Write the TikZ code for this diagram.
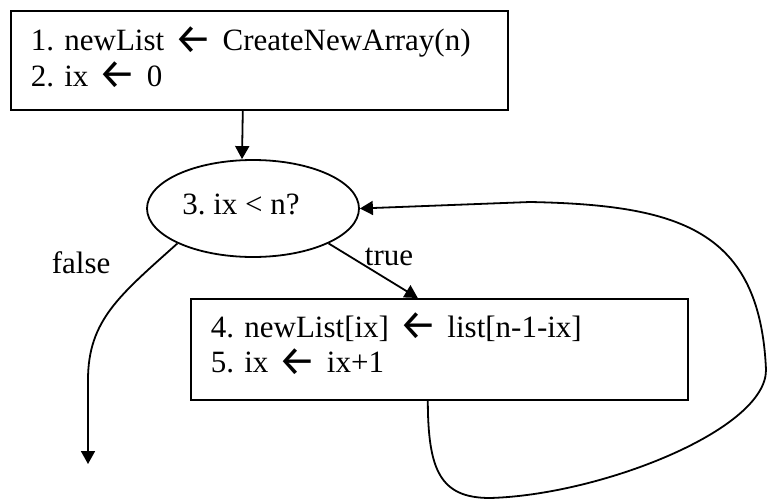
\documentclass[tikz,border=0pt]{standalone}
\usepackage{fontspec}
\setmainfont{Liberation Serif}
\newfontfamily\arrowfont{Fira Sans}
\newcommand{\getsarrow}{\raisebox{-2.5pt}{\arrowfont\fontsize{42}{42}\selectfont ←}}
\usetikzlibrary{arrows.meta, shapes.geometric}

\begin{document}
\frenchspacing
\begin{tikzpicture}[x=1pt,y=-1pt,>={Triangle[length=13pt,width=14pt]},line width=1.8pt,
  font=\fontsize{31}{35.5}\selectfont,
  stepbox/.style={draw,rectangle,anchor=north west,inner xsep=20pt,inner ysep=0pt,
    text width=457pt,align=left,line width=1.6pt},
  test node/.style={draw,ellipse,minimum width=212pt,minimum height=97pt,inner sep=0pt},
  edge label/.style={anchor=base west,inner sep=0pt}]

  \useasboundingbox (0,0) rectangle (767,500);

	\node[stepbox,text height=40pt,text depth=59pt] (init) at (10,10)
      {1. newList \getsarrow{} CreateNewArray(n)\\2. ix \getsarrow{} 0};
    \node[test node,text height=21pt,text depth=10pt] (test) at (253,208.5)
      {\hspace*{-24pt}3. ix < n?};
    \node[stepbox,text height=38.5pt,text depth=62.5pt] (body) at (190,298)
      {4. newList[ix] \getsarrow{} list[n-1-ix]\\5. ix \getsarrow{} ix+1};
    \coordinate (done) at (88,464);

    \node[edge label] (truelbl) at (364,265) {true};
    \node[edge label] (falselbl) at (51,273) {false};

    \path ([xshift=-16.5pt]init.south) edge [->] ([xshift=-11pt]test.north);
    \path (test.south east) edge [->] ([xshift=-21.5pt]body.north);
    \draw[->] (test.south west) .. controls (120,295) and (88,320) .. (88,380) -- (done);
    \draw[->] ([xshift=-11.5pt]body.south) .. controls (428,470) and (440,498) .. (490,498)
      .. controls (600,495) and (766,430) .. (766,370)
      .. controls (760,230) and (680,205) .. (530,202) -- (test.east);

\end{tikzpicture}
\end{document}
